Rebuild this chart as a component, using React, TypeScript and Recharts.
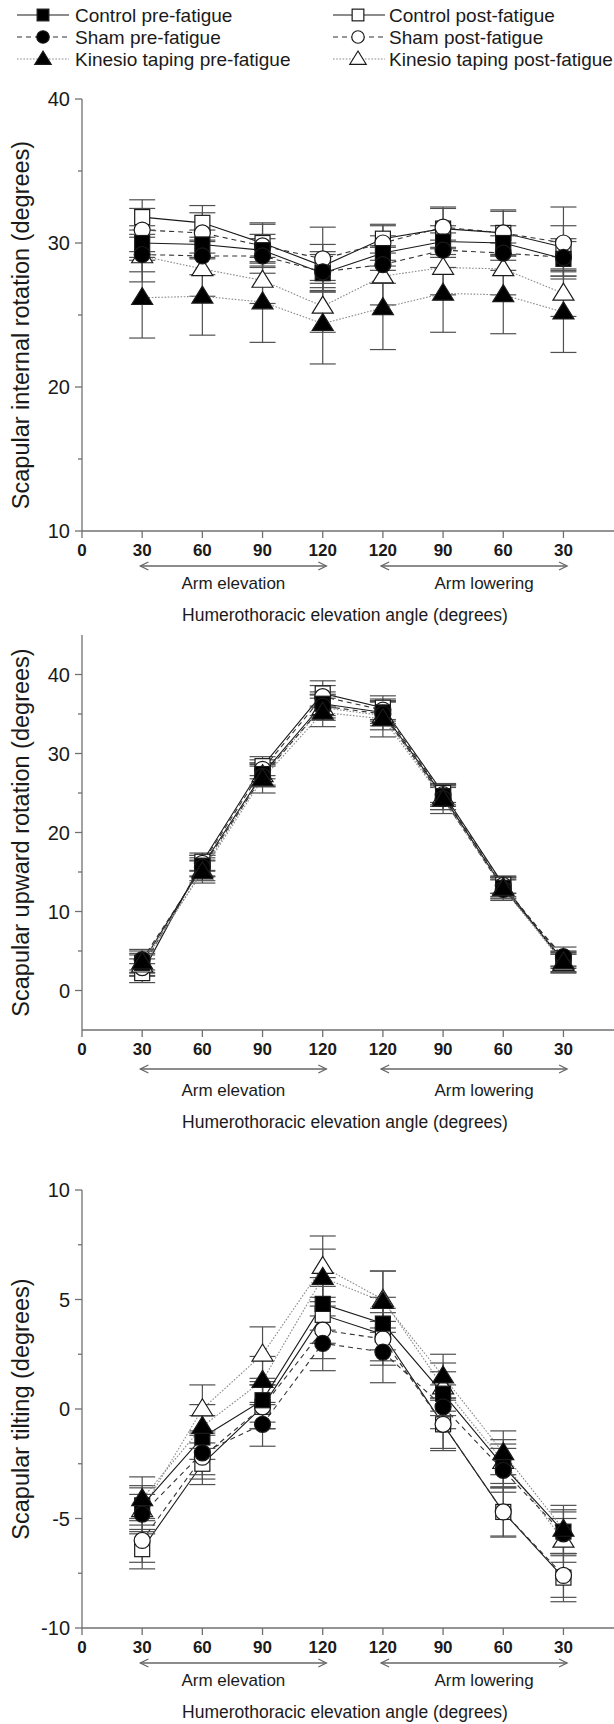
import React from 'react';
import { ComposedChart, Line, XAxis, YAxis, ErrorBar } from 'recharts';

const FONT = '"Liberation Sans", Arial, Helvetica, sans-serif';
const AXIS_COLOR = '#707070';
const ERR_COLOR = '#505050';
const TEXT_COLOR = '#1a1a1a';

const X_MAX = 8.84;
const xPositions = [1, 2, 3, 4, 5, 6, 7, 8];
const xTickValues = [0, 1, 2, 3, 4, 5, 6, 7, 8];
const xTickLabels = ['0', '30', '60', '90', '120', '120', '90', '60', '30'];
const phaseLabels = ['Arm elevation', 'Arm lowering'];
const phaseSpans = [[0.97, 4.06], [4.97, 8.06]];
const phaseLabelShift = [0, 10];
const xAxisTitle = 'Humerothoracic elevation angle (degrees)';

const seriesKeys = ['cPre', 'cPost', 'sPre', 'sPost', 'kPre', 'kPost'];
const legendNames = [
  'Control pre-fatigue',
  'Control post-fatigue',
  'Sham pre-fatigue',
  'Sham post-fatigue',
  'Kinesio taping pre-fatigue',
  'Kinesio taping post-fatigue',
];

// Panel 1: scapular internal rotation
const irTitle = 'Scapular internal rotation (degrees)';
const irControlPre = [30.0, 29.9, 29.5, 27.9, 29.3, 30.1, 30.0, 28.9];
const irControlPost = [31.8, 31.4, 30.0, 28.4, 30.3, 31.0, 30.7, 29.7];
const irShamPre = [29.2, 29.1, 29.1, 28.0, 28.5, 29.5, 29.3, 29.0];
const irShamPost = [30.9, 30.7, 29.8, 28.9, 30.0, 31.1, 30.7, 30.0];
const irKtPre = [26.2, 26.3, 25.9, 24.4, 25.5, 26.5, 26.4, 25.2];
const irKtPost = [29.1, 28.2, 27.4, 25.6, 27.7, 28.3, 28.2, 26.5];
const irControlPreSd = [1.2, 1.0, 1.1, 1.3, 1.2, 1.1, 1.2, 1.2];
const irControlPostSd = [1.2, 1.2, 1.4, 1.5, 1.0, 1.4, 1.6, 1.5];
const irShamPreSd = [1.2, 1.3, 1.2, 1.4, 1.3, 1.2, 1.2, 1.3];
const irShamPostSd = [1.5, 1.4, 1.5, 2.2, 1.2, 1.4, 1.5, 2.5];
const irKtPreSd = [2.8, 2.7, 2.8, 2.8, 2.9, 2.7, 2.7, 2.8];
const irKtPostSd = [1.8, 1.9, 1.6, 1.8, 2.0, 1.9, 1.8, 1.6];
const irMajorTicks = [10, 20, 30, 40];
const irMinorTicks = [15, 25, 35];

// Panel 2: scapular upward rotation
const urTitle = 'Scapular upward rotation (degrees)';
const urControlPre = [3.5, 15.8, 27.4, 36.3, 35.2, 24.6, 13.0, 3.8];
const urControlPost = [2.2, 16.3, 28.4, 37.6, 35.8, 25.0, 13.4, 3.5];
const urShamPre = [3.9, 15.6, 27.1, 36.0, 35.0, 24.3, 12.8, 4.3];
const urShamPost = [2.9, 16.1, 28.0, 37.2, 35.5, 24.8, 13.3, 4.0];
const urKtPre = [3.6, 15.0, 26.8, 35.2, 34.4, 24.2, 12.9, 3.6];
const urKtPost = [3.2, 15.2, 27.3, 35.8, 34.8, 24.5, 13.0, 3.4];
const urControlPreSd = [1.2, 1.3, 1.4, 1.5, 1.4, 1.3, 1.1, 1.0];
const urControlPostSd = [1.2, 1.1, 1.2, 1.6, 1.5, 1.2, 1.1, 1.1];
const urShamPreSd = [1.3, 1.2, 1.3, 1.5, 1.5, 1.4, 1.2, 1.2];
const urShamPostSd = [1.1, 1.0, 1.2, 1.4, 1.4, 1.3, 1.0, 1.0];
const urKtPreSd = [1.4, 1.4, 1.8, 1.8, 2.3, 1.8, 1.5, 1.3];
const urKtPostSd = [1.3, 1.3, 1.5, 1.6, 1.8, 1.6, 1.3, 1.2];
const urMajorTicks = [0, 10, 20, 30, 40];
const urMinorTicks = [5, 15, 25, 35];

// Panel 3: scapular tilting
const tiTitle = 'Scapular tilting (degrees)';
const tiControlPre = [-4.4, -1.3, 0.4, 4.8, 3.9, 0.7, -2.6, -5.6];
const tiControlPost = [-6.4, -2.5, 0.1, 4.3, 3.4, -0.7, -4.7, -7.7];
const tiShamPre = [-4.8, -2.0, -0.7, 3.0, 2.6, 0.1, -2.8, -5.7];
const tiShamPost = [-6.0, -2.2, 0.1, 3.6, 3.2, -0.7, -4.7, -7.6];
const tiKtPre = [-4.1, -0.8, 1.3, 6.0, 4.9, 1.5, -2.0, -5.5];
const tiKtPost = [-4.6, 0.0, 2.5, 6.5, 5.0, 1.0, -2.4, -6.0];
const tiControlPreSd = [0.9, 1.0, 1.0, 1.2, 1.2, 1.0, 1.0, 1.0];
const tiControlPostSd = [0.9, 0.95, 1.0, 1.3, 1.2, 1.1, 1.15, 1.1];
const tiShamPreSd = [0.9, 1.0, 1.0, 1.25, 1.4, 1.0, 1.0, 1.0];
const tiShamPostSd = [1.0, 1.0, 1.0, 1.3, 1.2, 1.2, 1.1, 1.0];
const tiKtPreSd = [1.0, 1.0, 1.1, 1.3, 1.4, 1.0, 1.0, 1.1];
const tiKtPostSd = [1.0, 1.1, 1.25, 1.4, 1.3, 1.1, 1.0, 1.0];
const tiMajorTicks = [-10, -5, 0, 5, 10];
const tiMinorTicks = [-7.5, -2.5, 2.5, 7.5];

type MarkerKind = 'sqF' | 'sqO' | 'ciF' | 'ciO' | 'trF' | 'trO';

const seriesStyle: Record<string, { marker: MarkerKind; stroke: string; dash?: string; width: number }> = {
  cPre: { marker: 'sqF', stroke: '#1a1a1a', width: 1.1 },
  cPost: { marker: 'sqO', stroke: '#1a1a1a', width: 1.1 },
  sPre: { marker: 'ciF', stroke: '#333333', dash: '5 4', width: 1.1 },
  sPost: { marker: 'ciO', stroke: '#333333', dash: '5 4', width: 1.1 },
  kPre: { marker: 'trF', stroke: '#8a8a8a', dash: '1.6 1.6', width: 1.1 },
  kPost: { marker: 'trO', stroke: '#8a8a8a', dash: '1.6 1.6', width: 1.1 },
};

const drawOrder = ['cPost', 'sPost', 'kPost', 'cPre', 'sPre', 'kPre'];

function Marker({ cx, cy, kind, scale = 1 }: { cx: number; cy: number; kind: MarkerKind; scale?: number }) {
  const filled = kind.endsWith('F');
  const fill = filled ? '#000' : '#fff';
  const stroke = '#1a1a1a';
  const sw = 1.2;
  if (kind.startsWith('sq')) {
    const s = 15 * scale;
    return <rect x={cx - s / 2} y={cy - s / 2} width={s} height={s} fill={fill} stroke={stroke} strokeWidth={sw} />;
  }
  if (kind.startsWith('ci')) {
    return <circle cx={cx} cy={cy} r={8 * scale} fill={fill} stroke={stroke} strokeWidth={sw} />;
  }
  const w = 21 * scale;
  const h = 17 * scale;
  const pts = `${cx},${cy - h * 0.6} ${cx + w / 2},${cy + h * 0.4} ${cx - w / 2},${cy + h * 0.4}`;
  return <polygon points={pts} fill={fill} stroke={stroke} strokeWidth={sw} strokeLinejoin="miter" />;
}

function buildRows(values: number[][], sds: number[][]) {
  return xPositions.map((x, i) => {
    const row: Record<string, number> = { x };
    seriesKeys.forEach((k, j) => {
      row[k] = values[j][i];
      row[k + 'Sd'] = sds[j][i];
    });
    return row;
  });
}

const irRows = buildRows(
  [irControlPre, irControlPost, irShamPre, irShamPost, irKtPre, irKtPost],
  [irControlPreSd, irControlPostSd, irShamPreSd, irShamPostSd, irKtPreSd, irKtPostSd]
);
const urRows = buildRows(
  [urControlPre, urControlPost, urShamPre, urShamPost, urKtPre, urKtPost],
  [urControlPreSd, urControlPostSd, urShamPreSd, urShamPostSd, urKtPreSd, urKtPostSd]
);
const tiRows = buildRows(
  [tiControlPre, tiControlPost, tiShamPre, tiShamPost, tiKtPre, tiKtPost],
  [tiControlPreSd, tiControlPostSd, tiShamPreSd, tiShamPostSd, tiKtPreSd, tiKtPostSd]
);

const XTick = (props: any) => {
  const { x, y, payload } = props;
  const idx = xTickValues.indexOf(payload.value);
  return (
    <g>
      <line x1={x} x2={x} y1={y} y2={y + 7} stroke={AXIS_COLOR} strokeWidth={1.3} />
      <text x={x} y={y + 25} textAnchor="middle" fontSize={17} fontWeight="bold" fill={TEXT_COLOR} fontFamily={FONT}>
        {idx >= 0 ? xTickLabels[idx] : ''}
      </text>
    </g>
  );
};

const makeYTick = (majors: number[]) => (props: any) => {
  const { x, y, payload } = props;
  const v = payload.value;
  const major = majors.includes(v);
  return (
    <g>
      <line x1={x - (major ? 7 : 4)} x2={x} y1={y} y2={y} stroke={AXIS_COLOR} strokeWidth={1.3} />
      {major ? (
        <text x={x - 12} y={y + 7} textAnchor="end" fontSize={20} fill={TEXT_COLOR} fontFamily={FONT}>
          {String(v)}
        </text>
      ) : null}
    </g>
  );
};

const makeXAnno = (extra: number) => (props: any) => {
  const vb = props.viewBox || {};
  const x0 = vb.x ?? 0;
  const w = vb.width ?? 0;
  const a = vb.y ?? 0;
  const px = (v: number) => x0 + (v / X_MAX) * w;
  const ay = a + 35 + extra * 0.5;
  const col = '#666';
  return (
    <g>
      {phaseSpans.map(([s, e], i) => {
        const xs = px(s);
        const xe = px(e);
        return (
          <g key={'arr' + i}>
            <line x1={xs} x2={xe} y1={ay} y2={ay} stroke={col} strokeWidth={1.3} />
            <polyline points={`${xs + 8},${ay - 4} ${xs},${ay} ${xs + 8},${ay + 4}`} fill="none" stroke={col} strokeWidth={1.3} />
            <polyline points={`${xe - 8},${ay - 4} ${xe},${ay} ${xe - 8},${ay + 4}`} fill="none" stroke={col} strokeWidth={1.3} />
            <text x={(xs + xe) / 2 + phaseLabelShift[i]} y={a + 58 + extra} textAnchor="middle" fontSize={17} fill={TEXT_COLOR} fontFamily={FONT}>
              {phaseLabels[i]}
            </text>
          </g>
        );
      })}
      <text x={x0 + w / 2 - 3} y={a + 90 + extra} textAnchor="middle" fontSize={17.5} fill={TEXT_COLOR} fontFamily={FONT}>
        {xAxisTitle}
      </text>
    </g>
  );
};

const makeYTitle = (title: string, shift: number) => (props: any) => {
  const vb = props.viewBox || {};
  const cy = (vb.y ?? 0) + (vb.height ?? 0) / 2 + shift;
  const cx = 21;
  return (
    <text x={cx} y={cy} transform={`rotate(-90, ${cx}, ${cy})`} textAnchor="middle" dominantBaseline="central" fontSize={23.5} fill={TEXT_COLOR} fontFamily={FONT}>
      {title}
    </text>
  );
};

type PanelProps = {
  top: number;
  height: number;
  marginTop: number;
  xAxisHeight: number;
  rows: Record<string, number>[];
  domain: [number, number];
  majors: number[];
  minors: number[];
  title: string;
  titleShift: number;
  annoExtra: number;
};

function Panel({ top, height, marginTop, xAxisHeight, rows, domain, majors, minors, title, titleShift, annoExtra }: PanelProps) {
  const ticks = [...majors, ...minors].sort((p, q) => p - q);
  return (
    <div style={{ position: 'absolute', left: 0, top }}>
      <ComposedChart width={614} height={height} data={rows} margin={{ top: marginTop, right: 0, bottom: 0, left: 0 }}>
        <XAxis
          dataKey="x"
          type="number"
          domain={[0, X_MAX]}
          ticks={xTickValues}
          interval={0}
          allowDataOverflow
          tickSize={0}
          tickMargin={0}
          height={xAxisHeight}
          axisLine={{ stroke: AXIS_COLOR, strokeWidth: 1.3 }}
          tick={XTick}
          label={{ content: makeXAnno(annoExtra) }}
        />
        <YAxis
          type="number"
          domain={domain}
          ticks={ticks}
          interval={0}
          allowDataOverflow
          width={82}
          tickSize={0}
          tickMargin={0}
          axisLine={{ stroke: AXIS_COLOR, strokeWidth: 1.3 }}
          tick={makeYTick(majors)}
          label={{ content: makeYTitle(title, titleShift) }}
        />
        {drawOrder.map((k) => {
          const st = seriesStyle[k];
          return (
            <Line
              key={k}
              dataKey={k}
              type="linear"
              stroke={st.stroke}
              strokeWidth={st.width}
              strokeDasharray={st.dash}
              isAnimationActive={false}
              activeDot={false}
              dot={(p: any) => <Marker key={`${k}-${p.index}`} cx={p.cx} cy={p.cy} kind={st.marker} />}
            >
              <ErrorBar dataKey={k + 'Sd'} width={13} stroke={ERR_COLOR} strokeWidth={1.2} direction="y" isAnimationActive={false} />
            </Line>
          );
        })}
      </ComposedChart>
    </div>
  );
}

function LegendBlock() {
  const cols = [
    { lx1: 17, lx2: 69, mx: 43, tx: 75 },
    { lx1: 333, lx2: 385, mx: 358, tx: 389 },
  ];
  const rowsY = [15, 37, 59];
  return (
    <svg width={614} height={72} style={{ position: 'absolute', left: 0, top: 0 }}>
      {seriesKeys.map((k, i) => {
        const c = cols[i % 2];
        const y = rowsY[Math.floor(i / 2)];
        const st = seriesStyle[k];
        return (
          <g key={k}>
            <line x1={c.lx1} x2={c.lx2} y1={y} y2={y} stroke={st.stroke} strokeWidth={st.width} strokeDasharray={st.dash} />
            <Marker cx={c.mx} cy={y} kind={st.marker} scale={0.78} />
            <text x={c.tx} y={y + 6.8} fontSize={19} fill={TEXT_COLOR} fontFamily={FONT}>
              {legendNames[i]}
            </text>
          </g>
        );
      })}
    </svg>
  );
}

export default function App() {
  return (
    <div style={{ position: 'absolute', left: 0, top: 0, width: 614, height: 1724, background: '#fff', overflow: 'hidden' }}>
      <LegendBlock />
      <Panel top={70} height={560} marginTop={29} xAxisHeight={99} rows={irRows} domain={[10, 40]} majors={irMajorTicks} minors={irMinorTicks} title={irTitle} titleShift={10} annoExtra={0} />
      <Panel top={630} height={515} marginTop={5} xAxisHeight={115} rows={urRows} domain={[-5, 45]} majors={urMajorTicks} minors={urMinorTicks} title={urTitle} titleShift={0} annoExtra={8} />
      <Panel top={1145} height={579} marginTop={45} xAxisHeight={96} rows={tiRows} domain={[-10, 10]} majors={tiMajorTicks} minors={tiMinorTicks} title={tiTitle} titleShift={0} annoExtra={0} />
    </div>
  );
}
